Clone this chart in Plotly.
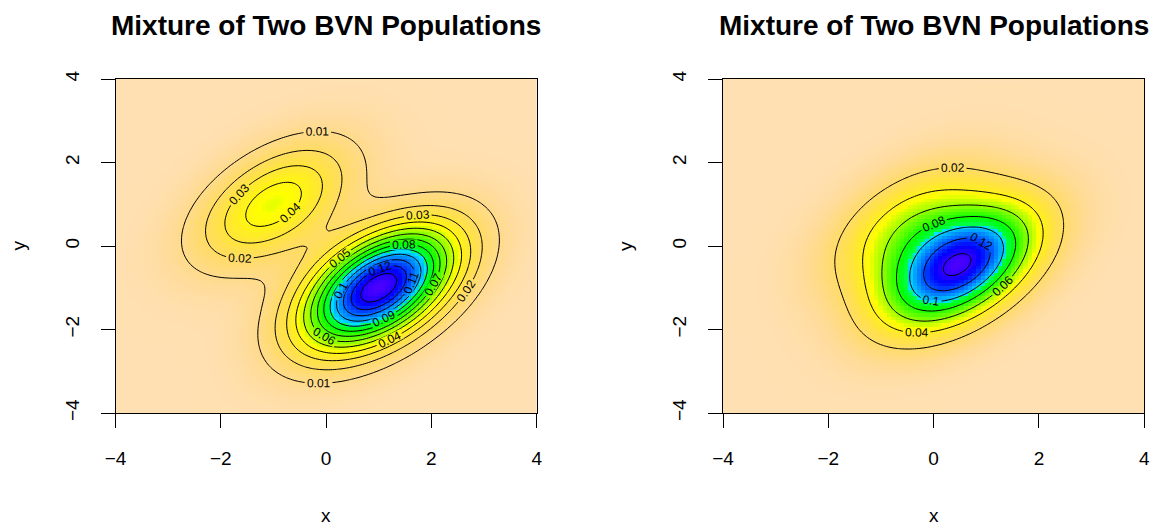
import colorsys
import numpy as np
import plotly.graph_objects as go

# ---- chart parameters ----
title_text = "Mixture of Two BVN Populations"
grid_lo, grid_hi, grid_n = -4.0, 4.0, 100
mix_weights = [0.25, 0.75]
shared_cov = [[1.0, 0.5], [0.5, 1.0]]
left_means = [[-1.0, 1.0], [1.0, -1.0]]
right_means = [[-0.5, 0.5], [0.5, -0.5]]
left_levels = [0.01, 0.13, 0.01]    # start, end, step
right_levels = [0.02, 0.14, 0.02]
axis_ticks = [-4, -2, 0, 2, 4]
axis_ticktext = ["\u22124", "\u22122", "0", "2", "4"]
n_colors = 100

W, H = 1157, 531
FONT = "Liberation Sans, Arial, Helvetica, sans-serif"


def fx(px):
    return px / W


def fy(py):
    return 1 - py / H


def topo_rev(n):
    j = n // 3
    k = n // 3
    i = n - j - k
    cols = []
    for h in np.linspace(43 / 60, 31 / 60, i):
        cols.append(colorsys.hsv_to_rgb(h, 1, 1))
    for h in np.linspace(23 / 60, 11 / 60, j):
        cols.append(colorsys.hsv_to_rgb(h, 1, 1))
    for h, s in zip(np.linspace(10 / 60, 6 / 60, k), np.linspace(1, 0.3, k)):
        cols.append(colorsys.hsv_to_rgb(h, s, 1))
    cols = cols[::-1]
    scale = []
    for idx, c in enumerate(cols):
        rgb = "rgb(%d,%d,%d)" % tuple(int(round(v * 255)) for v in c)
        scale.append([idx / (n - 1), rgb])
    return scale


def bvn(X, Y, mu, S):
    S = np.array(S)
    inv = np.linalg.inv(S)
    det = np.linalg.det(S)
    dx = X - mu[0]
    dy = Y - mu[1]
    q = inv[0, 0] * dx * dx + 2 * inv[0, 1] * dx * dy + inv[1, 1] * dy * dy
    return np.exp(-q / 2) / (2 * np.pi * np.sqrt(det))


xs = np.linspace(grid_lo, grid_hi, grid_n)
ys = np.linspace(grid_lo, grid_hi, grid_n)
X, Y = np.meshgrid(xs, ys)


def mixture(means):
    return sum(w * bvn(X, Y, m, shared_cov) for w, m in zip(mix_weights, means))


cscale = topo_rev(n_colors)
fig = go.Figure()

panels = [
    (mixture(left_means), left_levels, "x", "y", [115.5, 536.7]),
    (mixture(right_means), right_levels, "x2", "y2", [723.0, 1144.3]),
]

plot_top, plot_bot = 79.0, 413.0

for Z, lev, xa, ya, px in panels:
    fig.add_trace(go.Heatmap(x=xs, y=ys, z=Z, colorscale=cscale, showscale=False,
                             zsmooth=False, zmin=float(Z.min()), zmax=float(Z.max()),
                             xaxis=xa, yaxis=ya, hoverinfo="skip"))
    fig.add_trace(go.Contour(x=xs, y=ys, z=Z, autocontour=False,
                             contours=dict(start=lev[0], end=lev[1] + 1e-9, size=lev[2],
                                           coloring="none", showlabels=True,
                                           labelfont=dict(size=12, color="black", family=FONT)),
                             line=dict(color="black", width=1, smoothing=1),
                             showscale=False, xaxis=xa, yaxis=ya, hoverinfo="skip"))

axis_common = dict(range=[-4, 4], tickvals=axis_ticks, ticktext=axis_ticktext,
                   ticks="outside", ticklen=14, tickwidth=1, tickcolor="black",
                   showline=True, linecolor="black", linewidth=1, mirror=True,
                   showgrid=False, zeroline=False, automargin=False,
                   ticklabeloverflow="allow",
                   tickfont=dict(size=19, color="black", family=FONT))

ydom = [fy(plot_bot), fy(plot_top)]
fig.update_layout(
    width=W, height=H, autosize=False,
    margin=dict(l=0, r=0, t=0, b=0, pad=0, autoexpand=False),
    paper_bgcolor="white", plot_bgcolor="white", showlegend=False,
    xaxis=dict(domain=[fx(panels[0][4][0]), fx(panels[0][4][1])], anchor="y",
               ticklabelstandoff=14, **axis_common),
    yaxis=dict(domain=ydom, anchor="x", tickangle=-90, ticklabelstandoff=14, **axis_common),
    xaxis2=dict(domain=[fx(panels[1][4][0]), fx(panels[1][4][1])], anchor="y2",
                ticklabelstandoff=14, **axis_common),
    yaxis2=dict(domain=ydom, anchor="x2", tickangle=-90, ticklabelstandoff=14, **axis_common),
)

annots = []
for _, _, _, _, px in panels:
    cx = fx((px[0] + px[1]) / 2)
    annots.append(dict(text="<b>%s</b>" % title_text, x=cx, y=fy(25), xref="paper", yref="paper",
                       showarrow=False, xanchor="center", yanchor="middle",
                       font=dict(size=28, color="black", family=FONT)))
    annots.append(dict(text="x", x=cx, y=fy(515), xref="paper", yref="paper",
                       showarrow=False, xanchor="center", yanchor="middle",
                       font=dict(size=19, color="black", family=FONT)))
    annots.append(dict(text="y", x=fx(px[0] - 97), y=fy(246), xref="paper", yref="paper",
                       showarrow=False, xanchor="center", yanchor="middle", textangle=-90,
                       font=dict(size=19, color="black", family=FONT)))
fig.update_layout(annotations=annots)

fig.write_html("out.html", config={"displayModeBar": False, "staticPlot": True},
               post_script="document.body.style.margin='0px';document.body.style.overflow='hidden';")
